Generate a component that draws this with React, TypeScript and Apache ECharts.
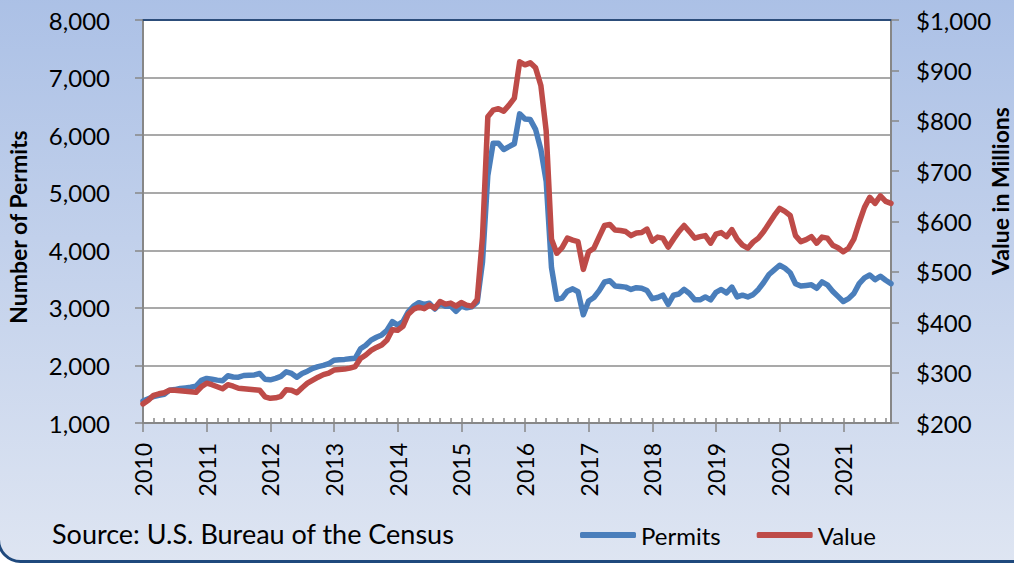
import React, { useEffect, useRef } from "react";
import * as echarts from "echarts";

// Monthly categories, Jan 2010 .. Oct 2021
const startYear = 2010;
const monthCount = 142;
const months: string[] = Array.from({ length: monthCount }, (_, i) => {
  const y = startYear + Math.floor(i / 12);
  const m = (i % 12) + 1;
  return `${y}-${m < 10 ? "0" + m : m}`;
});

// Number of permits (left axis)
const permits = [
  1380, 1420, 1460, 1480, 1500, 1570, 1580, 1600, 1610, 1620, 1640, 1740,
  1775, 1760, 1745, 1735, 1820, 1800, 1795, 1825, 1830, 1835, 1860, 1760,
  1750, 1775, 1810, 1890, 1860, 1795, 1860, 1900, 1950, 1980, 2000, 2030,
  2090, 2100, 2105, 2115, 2125, 2290, 2350, 2440, 2490, 2530, 2610, 2760,
  2700, 2760, 2930, 3030, 3090, 3060, 3080, 2980, 3070, 3030, 3030, 2940,
  3030, 3000, 3020, 3100, 3800, 5300, 5860, 5860, 5750, 5800, 5850, 6370,
  6280, 6270, 6100, 5750, 5200, 3700, 3150, 3170, 3290, 3330, 3280, 2880,
  3120, 3180, 3300, 3450, 3470, 3380, 3370, 3360, 3320, 3350, 3340, 3300,
  3160, 3180, 3220, 3060, 3220, 3240, 3320, 3250, 3140, 3140, 3190, 3140,
  3270, 3320, 3260, 3360, 3190, 3220, 3190, 3230, 3320, 3440, 3580, 3660,
  3740, 3690, 3610, 3420, 3380, 3390, 3400, 3340, 3450, 3400, 3290, 3200,
  3110, 3160, 3250, 3420, 3520, 3570, 3490, 3550, 3480, 3420,
];

// Value in millions of dollars (right axis)
const values = [
  238, 245, 255, 258, 260, 265, 265, 264, 263, 262, 261, 272,
  279, 276, 272, 268, 276, 273, 269, 268, 267, 266, 265, 252,
  249, 250, 253, 266, 265, 260, 270, 279, 285, 291, 296, 299,
  305, 306, 307, 309, 312, 328, 335, 344, 350, 355, 365, 385,
  384, 392, 416, 426, 430, 427, 434, 428, 441, 436, 438, 432,
  439, 434, 432, 445, 570, 808, 821, 824, 819, 831, 845, 917,
  911, 915, 905, 870, 780, 565, 537, 548, 567, 563, 560, 505,
  540, 547, 570, 592, 594, 583, 582, 580, 572, 577, 578, 585,
  561, 569, 567, 549, 565, 580, 592, 580, 567, 570, 572, 557,
  575, 578, 570, 584, 565, 553, 547, 559, 567, 580, 596, 612,
  626, 620, 612, 572, 560, 564, 570, 557, 569, 567, 553, 548,
  540, 547, 565, 598, 628, 648, 636, 651, 640, 636,
];

const permitTicks = { min: 1000, max: 8000, interval: 1000 };
const valueTicks = { min: 200, max: 1000, interval: 100 };

const seriesNames = ["Permits", "Value"];
const leftTitle = "Number of Permits";
const rightTitle = "Value in Millions";
const sourceText = "Source: U.S. Bureau of the Census";

const FONT = "Lato, 'Open Sans', sans-serif";
const GRAY = "#878787";

export default function App() {
  const ref = useRef<HTMLDivElement>(null);

  useEffect(() => {
    document.body.style.margin = "0";
    if (!ref.current) return;
    const chart = echarts.init(ref.current, undefined, { renderer: "svg" });

    const option: any = {
      animation: false,
      backgroundColor: "#ffffff",
      textStyle: { fontFamily: FONT },
      graphic: [
        {
          type: "rect",
          z: -100,
          silent: true,
          shape: { x: -1.5, y: -40, width: 1040, height: 601.5, r: 22 },
          style: {
            fill: new echarts.graphic.LinearGradient(0, 0, 0, 1, [
              { offset: 0, color: "#A8BEE5" },
              { offset: 1, color: "#DEE5F2" },
            ]),
            stroke: "#1F497D",
            lineWidth: 3,
          },
        },
        {
          type: "text",
          left: 52,
          top: 520,
          style: {
            text: sourceText,
            fontFamily: FONT,
            fontSize: 27,
            fill: "#000000",
          },
        },
        {
          type: "text",
          x: 18,
          y: 227,
          rotation: Math.PI / 2,
          style: {
            text: leftTitle,
            fontFamily: FONT,
            fontSize: 23,
            fontWeight: "bold",
            fill: "#000000",
            align: "center",
            verticalAlign: "middle",
          },
        },
        {
          type: "text",
          x: 1000,
          y: 191,
          rotation: Math.PI / 2,
          style: {
            text: rightTitle,
            fontFamily: FONT,
            fontSize: 23,
            fontWeight: "bold",
            fill: "#000000",
            align: "center",
            verticalAlign: "middle",
          },
        },
      ],
      grid: {
        left: 143,
        right: 123,
        top: 20,
        bottom: 140,
        show: true,
        backgroundColor: "#ffffff",
        borderWidth: 0,
        containLabel: false,
        outerBoundsMode: "none",
      },
      legend: {
        data: seriesNames,
        left: 575,
        top: 518,
        icon: "roundRect",
        itemWidth: 56,
        itemHeight: 6,
        itemGap: 36,
        textStyle: { fontFamily: FONT, fontSize: 24, color: "#000" },
      },
      xAxis: [
        {
          type: "category",
          data: months,
          boundaryGap: false,
          position: "bottom",
          axisLine: { show: true, lineStyle: { color: GRAY, width: 2 } },
          axisTick: {
            show: true,
            inside: true,
            interval: 1,
            length: 5,
            lineStyle: { color: GRAY, width: 1.5 },
          },
          axisLabel: { show: false },
          splitLine: { show: false },
        },
        {
          type: "category",
          data: months,
          boundaryGap: false,
          position: "bottom",
          axisLine: { show: false },
          axisTick: {
            show: true,
            interval: 11,
            length: 9,
            lineStyle: { color: GRAY, width: 1.5 },
          },
          axisLabel: {
            interval: 11,
            rotate: 90,
            margin: 20,
            fontFamily: FONT,
            fontSize: 23,
            color: "#000",
            formatter: (v: string) => v.slice(0, 4),
          },
          splitLine: { show: false },
        },
        {
          type: "category",
          data: months,
          boundaryGap: false,
          position: "top",
          axisLine: { show: true, lineStyle: { color: "#2C4D7A", width: 2 } },
          axisTick: { show: false },
          axisLabel: { show: false },
          splitLine: { show: false },
        },
      ],
      yAxis: [
        {
          type: "value",
          position: "left",
          min: permitTicks.min,
          max: permitTicks.max,
          interval: permitTicks.interval,
          axisLine: { show: true, lineStyle: { color: GRAY, width: 2 } },
          axisTick: { show: true, length: 8, lineStyle: { color: GRAY, width: 1.5 } },
          axisLabel: {
            margin: 33,
            fontFamily: FONT,
            fontSize: 24,
            color: "#000",
            formatter: (v: number) => v.toLocaleString("en-US"),
          },
          splitLine: { show: true, lineStyle: { color: "#8C8C8C", width: 1.5 } },
        },
        {
          type: "value",
          position: "right",
          min: valueTicks.min,
          max: valueTicks.max,
          interval: valueTicks.interval,
          axisLine: { show: true, lineStyle: { color: GRAY, width: 2 } },
          axisTick: { show: true, length: 8, lineStyle: { color: GRAY, width: 1.5 } },
          axisLabel: {
            margin: 25,
            fontFamily: FONT,
            fontSize: 24,
            color: "#000",
            formatter: (v: number) => "$" + v.toLocaleString("en-US"),
          },
          splitLine: { show: false },
        },
      ],
      series: [
        {
          name: seriesNames[0],
          type: "line",
          xAxisIndex: 0,
          yAxisIndex: 0,
          data: permits,
          symbol: "none",
          color: "#4A7EBB",
          lineStyle: { width: 5.5, color: "#4A7EBB", cap: "round", join: "round" },
        },
        {
          name: seriesNames[1],
          type: "line",
          xAxisIndex: 0,
          yAxisIndex: 1,
          data: values,
          symbol: "none",
          color: "#BE4B48",
          lineStyle: { width: 5.5, color: "#BE4B48", cap: "round", join: "round" },
        },
      ],
    };

    chart.setOption(option);
    return () => chart.dispose();
  }, []);

  return <div ref={ref} style={{ width: 1014, height: 563 }} />;
}
